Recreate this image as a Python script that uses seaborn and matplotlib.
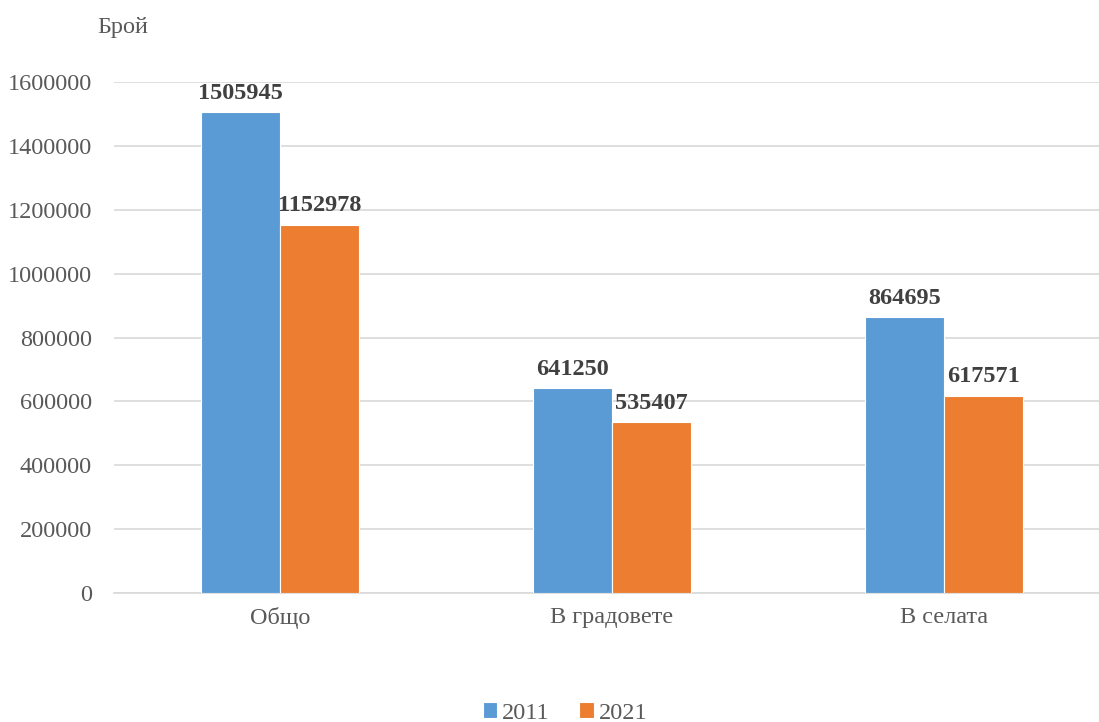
import pandas as pd
import matplotlib
matplotlib.use("Agg")
import matplotlib.pyplot as plt
import seaborn as sns

# data
categories = ["Общо", "В градовете", "В селата"]
years = ["2011", "2021"]
values_2011 = [1505945, 641250, 864695]
values_2021 = [1152978, 535407, 617571]
colors = ["#5B9BD5", "#ED7D31"]
yticks = [0, 200000, 400000, 600000, 800000, 1000000, 1200000, 1400000, 1600000]

df = pd.DataFrame({
    "cat": categories * 2,
    "year": [years[0]] * 3 + [years[1]] * 3,
    "val": values_2011 + values_2021,
})

sns.set_style("white")
plt.rcParams["font.family"] = ["Liberation Serif", "DejaVu Serif"]

fig = plt.figure(figsize=(10.99, 7.22), dpi=100)
ax = fig.add_axes([114 / 1099, (722 - 593) / 722, 996 / 1099, (593 - 82) / 722])

sns.barplot(data=df, x="cat", y="val", hue="year", palette=colors,
            saturation=1, width=0.476, edgecolor="white", linewidth=0.8,
            ax=ax, zorder=3)

ax.set_ylim(0, 1600000)
ax.set_yticks(yticks)
ax.set_yticklabels([str(t) for t in yticks], fontsize=17.5, color="#595959")
ax.tick_params(axis="x", labelsize=17.5, labelcolor="#595959", length=0, pad=10)
ax.tick_params(axis="y", length=0, pad=16)
ax.grid(axis="y", color="#D9D9D9", linewidth=1.2, zorder=0)
ax.set_xlabel("")
ax.set_ylabel("")
for s in ["top", "right", "left"]:
    ax.spines[s].set_visible(False)
ax.spines["bottom"].set_color("#D9D9D9")
ax.spines["bottom"].set_linewidth(1.2)

for cont in ax.containers:
    ax.bar_label(cont, fmt="%d", fontsize=17.5, fontweight="bold",
                 color="#404040", padding=6, clip_on=False)

fig.text(97 / 1099, 1 - 28 / 722, "Брой", fontsize=17.5, color="#595959",
         va="center", ha="left")

ax.legend(loc="center", bbox_to_anchor=(565 / 1099, 1 - 713 / 722),
          bbox_transform=fig.transFigure, ncol=2, frameon=False,
          fontsize=17.5, handlelength=0.6, handleheight=0.6,
          handletextpad=0.2, columnspacing=1.2, labelcolor="#595959")

fig.savefig("out.png", dpi=100)
